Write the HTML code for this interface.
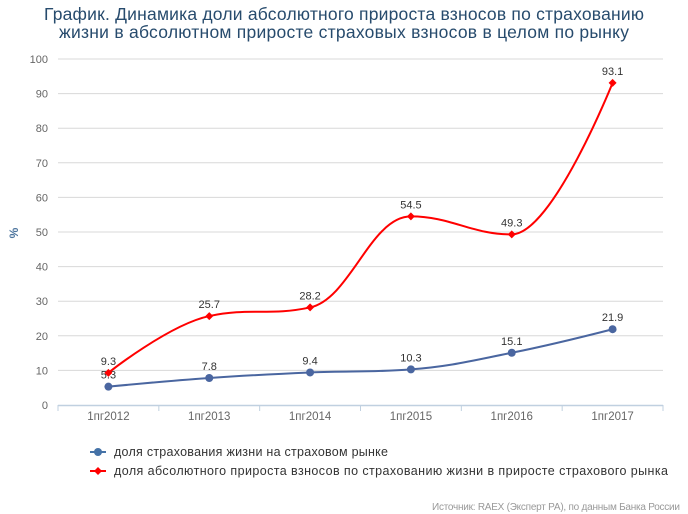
<!DOCTYPE html>
<html><head><meta charset="utf-8"><style>
body{margin:0;background:#fff;}
svg{display:block;font-family:"Liberation Sans",sans-serif;}
</style></head><body>
<svg id="s" width="688" height="514" xmlns="http://www.w3.org/2000/svg">
<text x="344" y="20" text-anchor="middle" font-size="17.5" fill="#274b6d" textLength="600">График. Динамика доли абсолютного прироста взносов по страхованию</text>
<text x="344" y="38" text-anchor="middle" font-size="17.5" fill="#274b6d" textLength="570">жизни в абсолютном приросте страховых взносов в целом по рынку</text>
<g id="grid"></g>
<text transform="translate(18,233) rotate(-90)" text-anchor="middle" font-size="12" font-weight="bold" fill="#4d759e">%</text>
<g id="series"></g>
<g font-size="12.5" fill="#333">
<line x1="90" y1="452" x2="106" y2="452" stroke="#4572a7" stroke-width="2"/><circle cx="98" cy="452" r="4" fill="#4572a7"/>
<text x="114" y="456" textLength="274">доля страхования жизни на страховом рынке</text>
<line x1="90" y1="471" x2="106" y2="471" stroke="#f00" stroke-width="2"/><path d="M98 467 L102 471 L98 475 L94 471Z" fill="#f00"/>
<text x="114" y="475" textLength="554">доля абсолютного прироста взносов по страхованию жизни в приросте страхового рынка</text>
</g>
<text x="680" y="510" text-anchor="end" font-size="10" fill="#999" textLength="248">Источник: RAEX (Эксперт РА), по данным Банка России</text>
</svg>
<script>
var NS="http://www.w3.org/2000/svg";
function el(t,a,p,txt){var e=document.createElementNS(NS,t);for(var k in a)e.setAttribute(k,a[k]);if(txt!=null)e.textContent=txt;p.appendChild(e);return e;}
var g=document.getElementById('grid'),S=document.getElementById('series');
var X0=58,X1=663,Y0=405,K=3.46;
function Y(v){return Y0-K*v;}
for(var v=10;v<=100;v+=10){el('line',{x1:X0,x2:X1,y1:Y(v),y2:Y(v),stroke:'#d8d8d8','stroke-width':1},g);}
for(var v=0;v<=100;v+=10){el('text',{x:48,y:Y(v)+4,'text-anchor':'end','font-size':11,fill:'#666'},g,String(v));}
el('line',{x1:X0,x2:X1,y1:Y0+0.5,y2:Y0+0.5,stroke:'#c0d0e0','stroke-width':1.5},g);
var cats=['1пг2012','1пг2013','1пг2014','1пг2015','1пг2016','1пг2017'];
var w=(X1-X0)/6;
for(var i=0;i<=6;i++)el('line',{x1:X0+i*w,x2:X0+i*w,y1:Y0,y2:Y0+6,stroke:'#c0d0e0'},g);
for(var i=0;i<6;i++)el('text',{x:X0+w*(i+.5),y:Y0+15,'text-anchor':'middle','font-size':11.5,fill:'#666'},g,cats[i]);
function spline(pts){
 var d='M'+pts[0][0]+' '+pts[0][1],sm=1.5,dn=2.5,prevR=pts[0];
 for(var i=1;i<pts.length;i++){
  var p=pts[i],l=pts[i-1],n=pts[i+1],lc,rc;
  if(n){var lx=(sm*p[0]+l[0])/dn,ly=(sm*p[1]+l[1])/dn,rx=(sm*p[0]+n[0])/dn,ry=(sm*p[1]+n[1])/dn;
   var c=((ry-ly)*(rx-p[0]))/(rx-lx)+p[1]-ry;ly+=c;ry+=c;
   if(ly>l[1]&&ly>p[1]){ly=Math.max(l[1],p[1]);ry=2*p[1]-ly;}else if(ly<l[1]&&ly<p[1]){ly=Math.min(l[1],p[1]);ry=2*p[1]-ly;}
   if(ry>n[1]&&ry>p[1]){ry=Math.max(n[1],p[1]);ly=2*p[1]-ry;}else if(ry<n[1]&&ry<p[1]){ry=Math.min(n[1],p[1]);ly=2*p[1]-ry;}
   lc=[lx,ly];rc=[rx,ry];}
  else{lc=p;rc=p;}
  d+=' C'+prevR[0]+' '+prevR[1]+' '+lc[0]+' '+lc[1]+' '+p[0]+' '+p[1];
  prevR=rc;
 }
 return d;}
function draw(vals,col,marker){
 var pts=vals.map(function(v,i){return [X0+w*(i+.5),Y(v)];});
 el('path',{d:spline(pts),fill:'none',stroke:col,'stroke-width':2},S);
 pts.forEach(function(p,i){
  if(marker=='c')el('circle',{cx:p[0],cy:p[1],r:4,fill:col},S);
  else el('path',{d:'M'+p[0]+' '+(p[1]-4)+'L'+(p[0]+4)+' '+p[1]+'L'+p[0]+' '+(p[1]+4)+'L'+(p[0]-4)+' '+p[1]+'Z',fill:col},S);
  el('text',{x:p[0],y:p[1]-8,'text-anchor':'middle','font-size':11,fill:'#333'},S,vals[i].toFixed(1));
 });}
draw([5.3,7.8,9.4,10.3,15.1,21.9],'#4a66a0','c');
draw([9.3,25.7,28.2,54.5,49.3,93.1],'#f00','d');
</script>
</body></html>
